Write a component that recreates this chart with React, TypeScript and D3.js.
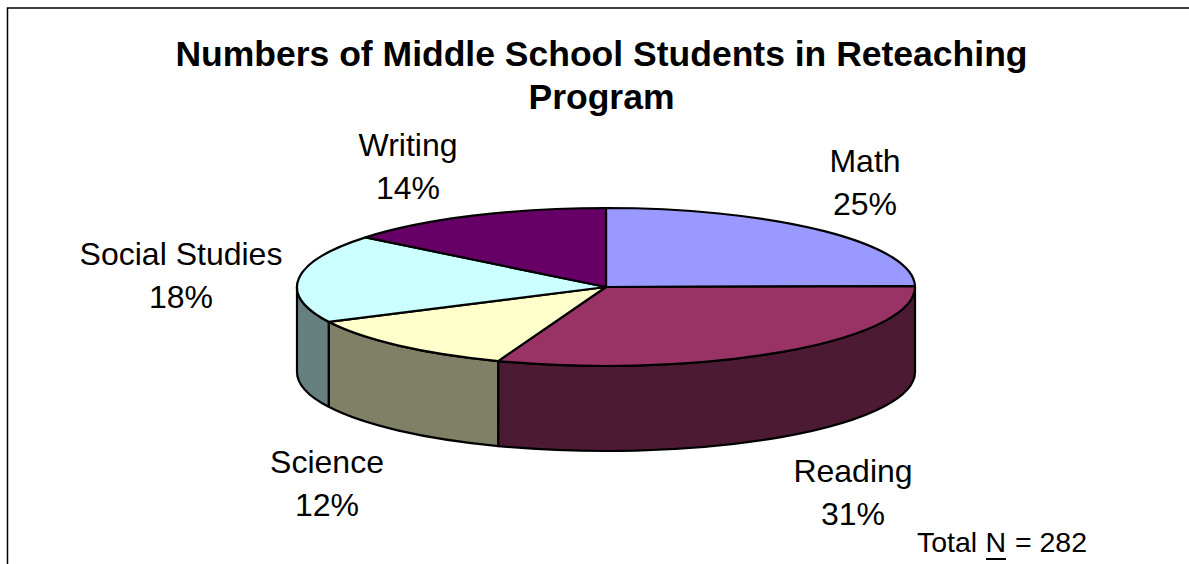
import React from "react";
import * as d3 from "d3";

const categories = ["Math", "Reading", "Science", "Social Studies", "Writing"];
const counts = [70, 87, 34, 51, 40];
const percentLabels = ["25%", "31%", "12%", "18%", "14%"];
const topColors = ["#9999FF", "#993366", "#FFFFCC", "#CCFFFF", "#660066"];
const sideColors = ["#4D4D80", "#4D1A33", "#808066", "#668080", "#330033"];
const labelCenters: [number, number][] = [[865, 161], [853, 471], [327, 462], [181, 254], [408, 145]];
const titleLines = ["Numbers of Middle School Students in Reteaching", "Program"];

const W = 1189, H = 564;
const cx = 606, cy = 287, rx = 309, ry = 79, depth = 85;
const FONT = "'Liberation Sans', Arial, sans-serif";

const pt = (a: number, dy = 0): [number, number] => [cx + rx * Math.sin(a), cy - ry * Math.cos(a) + dy];

function topPath(a0: number, a1: number) {
  const [x0, y0] = pt(a0);
  const [x1, y1] = pt(a1);
  const large = a1 - a0 > Math.PI ? 1 : 0;
  return `M${cx},${cy}L${x0},${y0}A${rx},${ry} 0 ${large} 1 ${x1},${y1}Z`;
}
function sidePath(a0: number, a1: number) {
  const [x0, y0] = pt(a0);
  const [x1, y1] = pt(a1);
  const [x2, y2] = pt(a1, depth);
  const [x3, y3] = pt(a0, depth);
  return `M${x0},${y0}A${rx},${ry} 0 0 1 ${x1},${y1}L${x2},${y2}A${rx},${ry} 0 0 0 ${x3},${y3}Z`;
}

export default function App() {
  const arcs = d3.pie<number>().sort(null).value((d) => d)(counts);
  const front0 = Math.PI / 2, front1 = (3 * Math.PI) / 2;
  return (
    <svg width={W} height={H} style={{ position: "absolute", left: 0, top: 0, background: "#fff" }} fontFamily={FONT}>
      <path d={`M7.5,${H}V8H${W}`} fill="none" stroke="#000" strokeWidth={1.5} />
      {titleLines.map((t, i) => (
        <text key={i} x={601.5} y={65.5 + i * 43} textAnchor="middle" fontSize={35.5} fontWeight="bold" fill="#000">{t}</text>
      ))}
      {arcs.map((a, i) => {
        const s = Math.max(a.startAngle, front0), e = Math.min(a.endAngle, front1);
        return e > s ? <path key={i} d={sidePath(s, e)} fill={sideColors[i]} stroke="#000" strokeWidth={2.2} strokeLinejoin="round" /> : null;
      })}
      {arcs.map((a, i) => (
        <path key={i} d={topPath(a.startAngle, a.endAngle)} fill={topColors[i]} stroke="#000" strokeWidth={2.2} strokeLinejoin="round" />
      ))}
      {categories.map((c, i) => (
        <text key={c} textAnchor="middle" fontSize={32} fill="#000">
          <tspan x={labelCenters[i][0]} y={labelCenters[i][1] + 11}>{c}</tspan>
          <tspan x={labelCenters[i][0]} y={labelCenters[i][1] + 54}>{percentLabels[i]}</tspan>
        </text>
      ))}
      <text x={917} y={552} fontSize={28.5} fill="#000">Total</text>
      <text x={985.5} y={552} fontSize={28.5} fill="#000">N</text>
      <rect x={986} y={558} width={20} height={2} fill="#000" />
      <text x={1087} y={552} textAnchor="end" fontSize={28.5} fill="#000">= 282</text>
    </svg>
  );
}
